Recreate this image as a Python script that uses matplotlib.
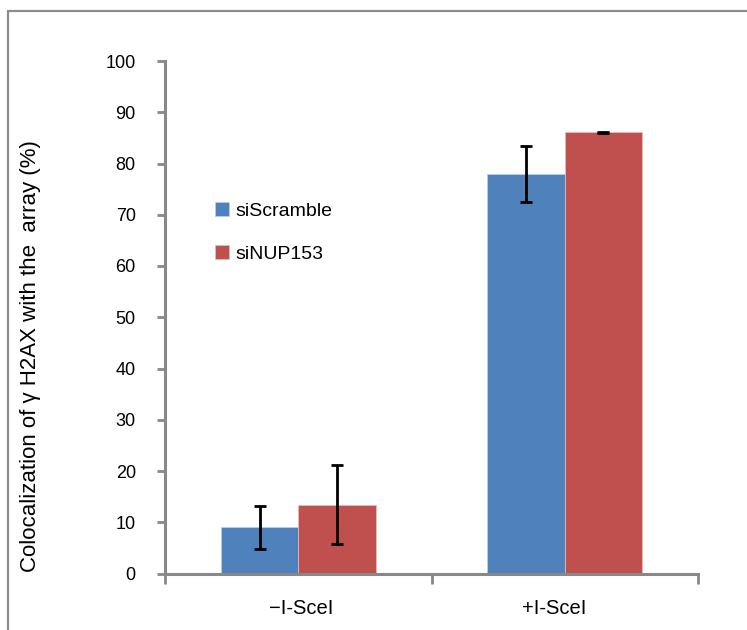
import matplotlib
matplotlib.use("Agg")
import matplotlib.pyplot as plt
from matplotlib.patches import Rectangle
import numpy as np

categories = ["\u2212I-SceI", "+I-SceI"]
series_names = ["siScramble", "siNUP153"]
scramble_vals = [9.0, 77.9]
scramble_err = [4.2, 5.5]
nup153_vals = [13.4, 86.1]
nup153_err = [7.7, 0.1]
yticks = [0, 10, 20, 30, 40, 50, 60, 70, 80, 90, 100]

plt.rcParams['font.family'] = ['Liberation Sans', 'DejaVu Sans']

W, H = 747, 630
fig = plt.figure(figsize=(W / 100, H / 100), dpi=100)
ax = fig.add_axes([165 / W, 1 - 573.5 / H, (698 - 165) / W, (573.5 - 61) / H])

# figure frame
fig.patches.append(Rectangle((7.5 / W, -0.2), 1.5, 1 - 11 / H + 0.2,
                             transform=fig.transFigure, fill=False,
                             edgecolor='#8c8c8c', linewidth=1.6, zorder=0))

gray = '#888888'
blue = '#4F81BD'
red = '#C0504D'
bw = 0.29
centers = np.arange(len(categories)) + 0.5
ekw = dict(ecolor='black', elinewidth=2.0, capsize=4.5, capthick=2.0)
ax.bar(centers - bw / 2, scramble_vals, width=bw, color=blue, edgecolor='#B9CDE5',
       linewidth=0.6, yerr=scramble_err, error_kw=ekw, label=series_names[0], zorder=2)
ax.bar(centers + bw / 2, nup153_vals, width=bw, color=red, edgecolor='#E6B9B8',
       linewidth=0.6, yerr=nup153_err, error_kw=ekw, label=series_names[1], zorder=2)

ax.set_xlim(0, len(categories))
ax.set_ylim(0, 100)
ax.set_yticks(yticks)
ax.set_yticklabels([str(t) for t in yticks], fontsize=13)
ax.set_xticks([0, 1, 2])
ax.set_xticklabels([])
ax.set_xticks(centers + np.array([0.01, -0.04]), minor=True)
ax.set_xticklabels(categories, minor=True, fontsize=14.5)
ax.tick_params(axis='x', which='minor', length=0, pad=18)
ax.tick_params(axis='x', which='major', length=7.5, width=2, color=gray, direction='out')
ax.tick_params(axis='y', length=6, width=2, color=gray, direction='out', pad=15)

for s in ['top', 'right']:
    ax.spines[s].set_visible(False)
for s in ['left', 'bottom']:
    ax.spines[s].set_color(gray)
    ax.spines[s].set_linewidth(2.2)

ax.set_ylabel("Colocalization of \u03b3 H2AX with the  array (%)", fontsize=16)
ax.yaxis.set_label_coords((41 - 165) / 533, 0.424)

leg = ax.legend(loc='upper left', bbox_to_anchor=(42 / 533, 1 - 133 / 512.5), frameon=False,
                fontsize=14, handlelength=0.75, handleheight=0.75, handletextpad=0.3,
                labelspacing=1.3, borderaxespad=0)

fig.savefig("out.png", dpi=100)
